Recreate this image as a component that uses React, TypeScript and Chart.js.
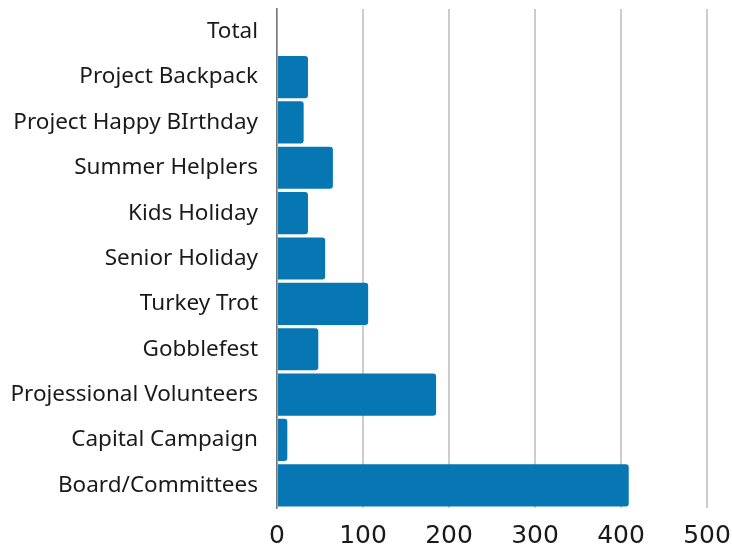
import React, { useEffect, useRef } from "react";
import { Chart, registerables } from "chart.js";

Chart.register(...registerables);

const categories = [
  "Total",
  "Project Backpack",
  "Project Happy BIrthday",
  "Summer Helplers",
  "Kids Holiday",
  "Senior Holiday",
  "Turkey Trot",
  "Gobblefest",
  "Projessional Volunteers",
  "Capital Campaign",
  "Board/Committees",
];

const values = [0, 36, 31, 65, 36, 56, 106, 48, 185, 12, 409];

const xTicks = [0, 100, 200, 300, 400, 500];

export default function App() {
  const ref = useRef<HTMLCanvasElement | null>(null);

  useEffect(() => {
    document.body.style.margin = "0";
    if (!ref.current) return;
    const chart = new Chart(ref.current, {
      type: "bar",
      data: {
        labels: categories,
        datasets: [
          {
            data: values,
            backgroundColor: "#0677b2",
            borderRadius: 3,
            borderSkipped: "start",
            barPercentage: 0.93,
            categoryPercentage: 1,
          },
        ],
      },
      options: {
        indexAxis: "y",
        animation: false,
        responsive: false,
        maintainAspectRatio: false,
        layout: { padding: { top: 9, right: 25, left: 0, bottom: 0 } },
        plugins: { legend: { display: false }, tooltip: { enabled: false } },
        scales: {
          x: {
            min: xTicks[0],
            max: xTicks[xTicks.length - 1],
            afterBuildTicks: (axis: any) => {
              axis.ticks = xTicks.map((v) => ({ value: v }));
            },
            afterFit: (scale: any) => {
              scale.height = 38;
            },
            grid: {
              color: "#cccccc",
              lineWidth: 2,
              drawTicks: true,
              tickLength: 17,
              tickColor: "rgba(0,0,0,0)",
            },
            border: { display: false },
            ticks: {
              color: "#1a1a1a",
              font: { family: "DejaVu Sans", size: 25, lineHeight: 0.92 },
              padding: 0,
              maxRotation: 0,
              minRotation: 0,
            },
          },
          y: {
            afterFit: (scale: any) => {
              scale.width = 277;
            },
            grid: {
              display: true,
              color: "rgba(0,0,0,0)",
              drawOnChartArea: false,
              drawTicks: true,
              tickLength: 19,
            },
            border: { display: true, color: "#777", width: 1.5 },
            ticks: {
              color: "#1a1a1a",
              font: { family: "Noto Sans", size: 22.5, lineHeight: 0.1 },
              padding: 0,
            },
          },
        },
      },
    });
    return () => chart.destroy();
  }, []);

  return <canvas ref={ref} width={732} height={546} style={{ display: "block" }} />;
}
